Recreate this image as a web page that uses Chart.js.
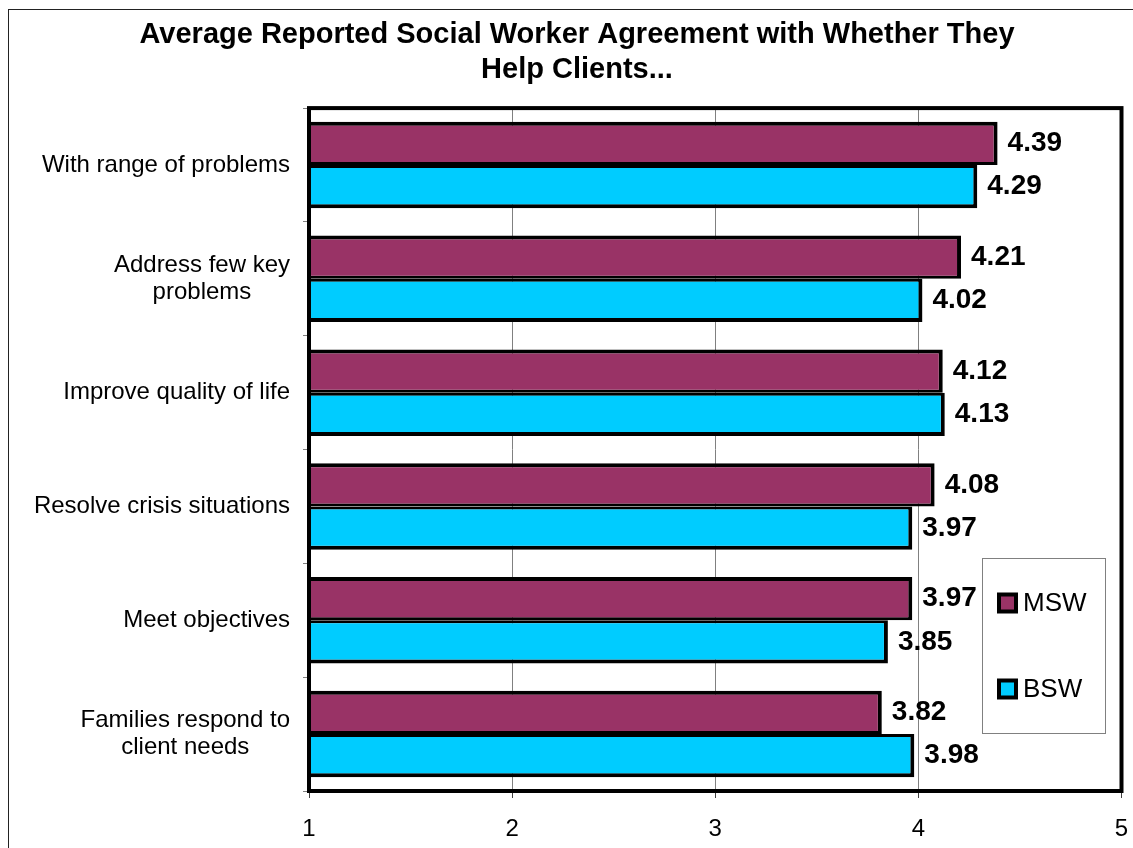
<!DOCTYPE html>
<html><head><meta charset="utf-8">
<script src="https://cdn.jsdelivr.net/npm/chart.js@4"></script>
<style>html,body{margin:0;padding:0;background:#fff;} canvas{display:block;}</style>
</head><body>
<canvas id="c" width="1133" height="848"></canvas>
<script>
const categories = [["With range of problems"],["Address few key","problems"],["Improve quality of life"],["Resolve crisis situations"],["Meet objectives"],["Families respond to","client needs"]];
const mswValues = [4.39, 4.21, 4.12, 4.08, 3.97, 3.82];
const bswValues = [4.29, 4.02, 4.13, 3.97, 3.85, 3.98];
const xTicks = [1, 2, 3, 4, 5];
const titleLines = ['Average Reported Social Worker Agreement with Whether They', 'Help Clients...'];
const seriesNames = ['MSW', 'BSW'];
const seriesColors = ['#993366', '#00CCFF'];

const FONT = '"Liberation Sans", Arial, sans-serif';

const decor = {
  id: 'decor',
  beforeDraw(chart) {
    const ctx = chart.ctx;
    ctx.save();
    ctx.fillStyle = '#fff';
    ctx.fillRect(0, 0, chart.width, chart.height);
    ctx.strokeStyle = '#222';
    ctx.lineWidth = 1;
    ctx.strokeRect(8.5, 9.5, chart.width + 50, chart.height + 50);
    ctx.restore();
  },
  afterDatasetsDraw(chart) {
    const {ctx, chartArea: a, scales} = chart;
    ctx.save();
    // plot frame
    ctx.strokeStyle = '#000';
    ctx.lineWidth = 4;
    ctx.strokeRect(a.left, a.top, a.right - a.left, a.bottom - a.top);
    // value labels
    ctx.font = 'bold 28px ' + FONT;
    ctx.fillStyle = '#000';
    ctx.textAlign = 'left';
    ctx.textBaseline = 'middle';
    chart.data.datasets.forEach((ds, di) => {
      chart.getDatasetMeta(di).data.forEach((bar, i) => {
        ctx.fillText(ds.data[i].toFixed(2), bar.x + 10, bar.y);
      });
    });
    // category labels (block right-aligned, lines centred)
    ctx.font = '24px ' + FONT;
    ctx.textAlign = 'center';
    const ys = scales.y;
    chart.data.labels.forEach((lab, i) => {
      const lines = Array.isArray(lab) ? lab : [lab];
      const maxW = Math.max(...lines.map(l => ctx.measureText(l).width));
      const cx = a.left - 19 - maxW / 2;
      const cy = ys.getPixelForValue(i);
      lines.forEach((l, k) => ctx.fillText(l, cx, cy + (k - (lines.length - 1) / 2) * 27));
    });
    // legend
    ctx.fillStyle = '#fff';
    ctx.fillRect(982, 558, 123, 175);
    ctx.strokeStyle = '#808080';
    ctx.lineWidth = 1;
    ctx.strokeRect(982.5, 558.5, 123, 175);
    const ly = [603, 689];
    ctx.font = '26px ' + FONT;
    ctx.textAlign = 'left';
    chart.data.datasets.forEach((ds, di) => {
      ctx.fillStyle = '#000';
      ctx.fillRect(997, ly[di] - 10.5, 21, 21);
      ctx.fillStyle = ds.backgroundColor;
      ctx.fillRect(1001, ly[di] - 6.5, 13, 13);
      ctx.fillStyle = '#000';
      ctx.fillText(ds.label, 1023, ly[di] + 1);
    });
    ctx.restore();
  }
};

new Chart(document.getElementById('c'), {
  type: 'bar',
  data: {
    labels: categories,
    datasets: [
      {label: seriesNames[0], data: mswValues, backgroundColor: seriesColors[0], borderColor: '#000',
       borderWidth: {top: 4, right: 4, bottom: 3, left: 4}, borderSkipped: false},
      {label: seriesNames[1], data: bswValues, backgroundColor: seriesColors[1], borderColor: '#000',
       borderWidth: {top: 3, right: 4, bottom: 4, left: 4}, borderSkipped: false}
    ]
  },
  options: {
    indexAxis: 'y',
    responsive: false,
    animation: false,
    devicePixelRatio: 1,
    layout: {padding: {left: 32.5, right: 11.5, top: 0, bottom: 0}},
    datasets: {bar: {categoryPercentage: 0.76, barPercentage: 1}},
    plugins: {
      legend: {display: false},
      tooltip: {enabled: false},
      title: {
        display: true, text: titleLines, color: '#000',
        font: {family: FONT, size: 29, weight: 'bold', lineHeight: 1.2},
        padding: {top: 18, bottom: 20.5}
      }
    },
    scales: {
      x: {
        type: 'linear', min: 1, max: 5, position: 'bottom',
        afterBuildTicks: s => { s.ticks = xTicks.map(v => ({value: v})); },
        afterFit: s => { s.height = 57; },
        grid: {color: '#808080', lineWidth: 1, drawTicks: true, tickLength: 7, tickColor: '#404040'},
        border: {display: false},
        ticks: {color: '#000', font: {family: FONT, size: 24, lineHeight: 2.25}, padding: 4, maxRotation: 0}
      },
      y: {
        type: 'category', position: 'left',
        afterFit: s => { s.width = 276.5; },
        grid: {drawOnChartArea: false, drawTicks: true, tickLength: 6, tickColor: '#808080', offset: true},
        border: {display: false},
        ticks: {display: false}
      }
    }
  },
  plugins: [decor]
});
</script>
</body></html>
